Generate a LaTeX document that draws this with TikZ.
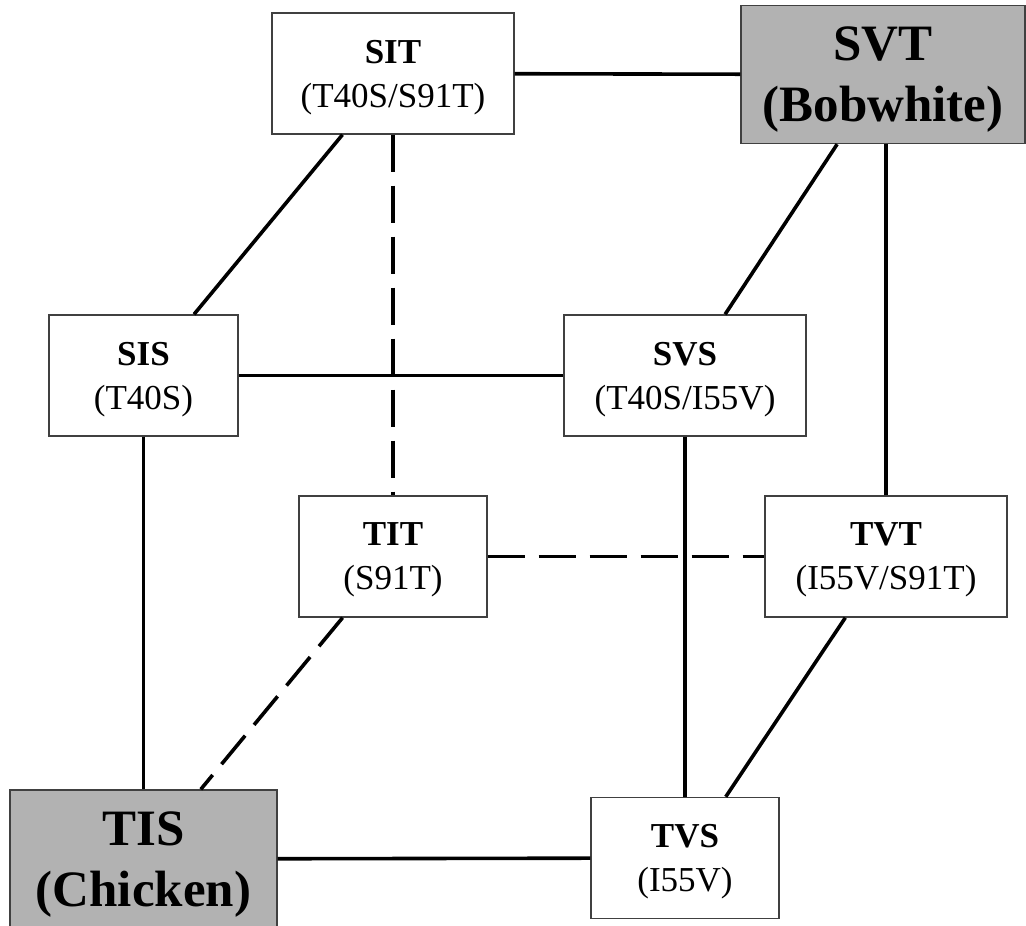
\documentclass[tikz,border=0pt]{standalone}
\usepackage{fontspec}
\setmainfont{Liberation Serif}

\begin{document}
\begin{tikzpicture}[x=1pt,y=-1pt,
  mut/.style={draw=black!75,line width=1.4pt,fill=white,align=center,inner sep=0pt,
    text depth=0pt,minimum height=121pt,font=\fontsize{35}{44}\selectfont},
  host/.style={mut,fill=black!30,minimum height=138pt,font=\fontsize{51}{61}\selectfont\bfseries},
  link/.style={line width=3.6pt},
  hidden/.style={link,dash pattern=on 37pt off 14pt}]
  \useasboundingbox (0,0) rectangle (1026,926);
  \node[mut,minimum width=242pt] (SIT) at (393,73.5) {\textbf{SIT}\\(T40S/S91T)};
  \node[host,minimum width=284pt] (SVT) at (883,74.5) {SVT\\(Bobwhite)};
  \node[mut,minimum width=189pt] (SIS) at (143.5,375.5) {\textbf{SIS}\\(T40S)};
  \node[mut,minimum width=242pt] (SVS) at (685,375.5) {\textbf{SVS}\\(T40S/I55V)};
  \node[mut,minimum width=188pt] (TIT) at (393,556.5) {\textbf{TIT}\\(S91T)};
  \node[mut,minimum width=242pt] (TVT) at (886,556.5) {\textbf{TVT}\\(I55V/S91T)};
  \node[host,minimum width=267pt] (TIS) at (143.5,859) {TIS\\(Chicken)};
  \node[mut,minimum width=188pt] (TVS) at (685,858) {\textbf{TVS}\\(I55V)};
  \draw[link] (SIT) -- (SVT);
  \draw[link] (SIT) -- (SIS);
  \draw[hidden] (SIT) -- (TIT);
  \draw[link] (SVT) -- (SVS);
  \draw[link] (TVT.north) -- (TVT.north |- SVT.south);
  \draw[link] (SIS) -- (SVS);
  \draw[link] (SIS) -- (TIS);
  \draw[link] (SVS) -- (TVS);
  \draw[hidden] (TIT) -- (TVT);
  \draw[hidden] (TIT) -- (TIS);
  \draw[link] (TVT) -- (TVS);
  \draw[link] (TIS) -- (TVS);
\end{tikzpicture}
\end{document}
